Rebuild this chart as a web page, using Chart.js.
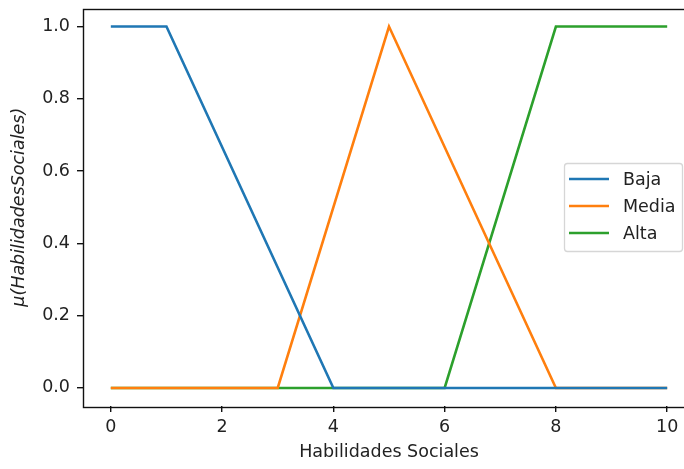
<!DOCTYPE html>
<html>
<head>
<meta charset="utf-8">
<script src="https://cdn.jsdelivr.net/npm/chart.js@4.4.0/dist/chart.umd.min.js"></script>
<style>
  html, body { margin: 0; padding: 0; background: #fff; overflow: hidden; }
  #wrap { width: 684px; height: 469px; overflow: hidden; }
  #myChart { margin-top: -9px; display: block; }
</style>
</head>
<body>
<div id="wrap"><canvas id="myChart" width="700" height="478"></canvas></div>
<script>
// membership functions (x breakpoints, mu values)
let bajaX = [0, 1, 4, 10];
let bajaY = [1, 1, 0, 0];
let mediaX = [0, 3, 5, 8, 10];
let mediaY = [0, 0, 1, 0, 0];
let altaX = [0, 6, 8, 10];
let altaY = [0, 0, 1, 1];

let labels = ['Baja', 'Media', 'Alta'];
let colors = ['#1f77b4', '#ff7f0e', '#2ca02c'];

let xTicks = [0, 2, 4, 6, 8, 10];
let yTicks = [0, 0.2, 0.4, 0.6, 0.8, 1.0];

const toPts = (xs, ys) => xs.map((x, i) => ({ x: x, y: ys[i] }));

const frame = {
  id: 'frame',
  afterDraw(chart) {
    const { ctx, chartArea: a } = chart;
    ctx.save();
    ctx.strokeStyle = '#111';
    ctx.lineWidth = 1.4;
    ctx.strokeRect(Math.round(a.left) + 0.5, Math.round(a.top) + 0.5,
      Math.round(a.right - a.left), Math.round(a.bottom - a.top));
    ctx.restore();
  }
};

// legend box drawn inside the axes, right side (canvas is shifted 9px up)
const boxLegend = {
  id: 'boxLegend',
  afterDraw(chart) {
    const ctx = chart.ctx;
    const x0 = 564.5, y0 = 172.5, w = 118, h = 88;
    ctx.save();
    ctx.fillStyle = 'rgba(255,255,255,0.8)';
    ctx.strokeStyle = '#d6d6d6';
    ctx.lineWidth = 1.3;
    ctx.beginPath();
    ctx.roundRect(x0, y0, w, h, 3);
    ctx.fill();
    ctx.stroke();
    ctx.font = '17.5px "DejaVu Sans"';
    ctx.textBaseline = 'middle';
    chart.data.datasets.forEach((ds, i) => {
      const yy = 188 + i * 27;
      ctx.strokeStyle = ds.borderColor;
      ctx.lineWidth = 2.6;
      ctx.beginPath();
      ctx.moveTo(569, yy);
      ctx.lineTo(609, yy);
      ctx.stroke();
      ctx.fillStyle = '#222';
      ctx.fillText(ds.label, 623, yy + 1);
    });
    ctx.restore();
  }
};

const PlotChart = () => {
  const ctx = document.getElementById('myChart');
  const series = [toPts(bajaX, bajaY), toPts(mediaX, mediaY), toPts(altaX, altaY)];

  new Chart(ctx, {
    type: 'line',
    data: {
      datasets: series.map((d, i) => ({
        label: labels[i],
        data: d,
        borderColor: colors[i],
        borderWidth: 2.6,
        pointRadius: 0,
        fill: false,
        tension: 0,
      })),
    },
    options: {
      responsive: false,
      animation: false,
      layout: { padding: { top: 0, right: 5, left: 0, bottom: 0 } },
      plugins: { legend: { display: false }, tooltip: { enabled: false } },
      scales: {
        x: {
          type: 'linear',
          min: -0.5,
          max: 10.5,
          afterBuildTicks: (s) => { s.ticks = xTicks.map((v) => ({ value: v })); },
          afterFit: (s) => { s.height = 63; },
          grid: { drawOnChartArea: false, tickLength: 6, lineWidth: 1.4, color: '#111' },
          border: { display: false },
          ticks: { color: '#222', padding: 5, font: { family: 'DejaVu Sans', size: 17.5 }, maxRotation: 0 },
          title: {
            display: true,
            text: 'Habilidades Sociales',
            color: '#222',
            font: { family: 'DejaVu Sans', size: 17.5 },
            padding: { top: 4, bottom: 6 },
          },
        },
        y: {
          min: -0.05,
          max: 1.05,
          afterBuildTicks: (s) => { s.ticks = yTicks.map((v) => ({ value: v })); },
          afterFit: (s) => { s.width = 83; },
          grid: { drawOnChartArea: false, tickLength: 6, lineWidth: 1.4, color: '#111' },
          border: { display: false },
          ticks: {
            color: '#222',
            padding: 7,
            font: { family: 'DejaVu Sans', size: 17.5 },
            callback: (v) => v.toFixed(1),
          },
          title: {
            display: true,
            text: 'μ(HabilidadesSociales)',
            color: '#222',
            font: { family: 'DejaVu Sans', size: 17.5, style: 'italic' },
            padding: { top: 9, bottom: 4 },
          },
        },
      },
    },
    plugins: [frame, boxLegend],
  });
};

window.onload = () => {
  PlotChart();
};
</script>
</body>
</html>
